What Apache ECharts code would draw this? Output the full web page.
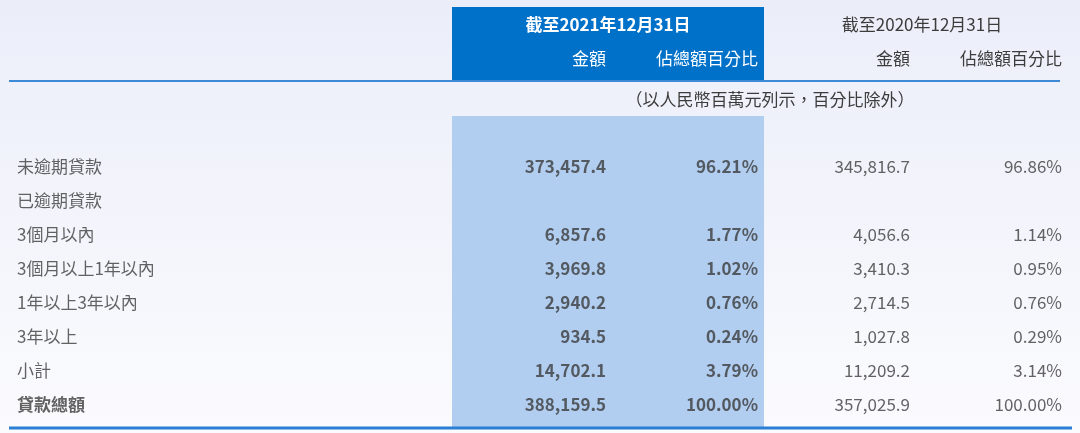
<!DOCTYPE html>
<html><head><meta charset="utf-8">
<script src="https://cdn.jsdelivr.net/npm/echarts@6/dist/echarts.min.js"></script>
<style>html,body{margin:0;padding:0;}#c{width:1080px;height:433px;}</style>
</head><body><div id="c"></div>
<script>
const rowLabels = ['未逾期貸款','已逾期貸款','3個月以內','3個月以上1年以內','1年以上3年以內','3年以上','小計','貸款總額'];
const amt2021 = ['373,457.4','','6,857.6','3,969.8','2,940.2','934.5','14,702.1','388,159.5'];
const pct2021 = ['96.21%','','1.77%','1.02%','0.76%','0.24%','3.79%','100.00%'];
const amt2020 = ['345,816.7','','4,056.6','3,410.3','2,714.5','1,027.8','11,209.2','357,025.9'];
const pct2020 = ['96.86%','','1.14%','0.95%','0.76%','0.29%','3.14%','100.00%'];
const headers = ['截至2021年12月31日','截至2020年12月31日'];
const subHeaders = ['金額','佔總額百分比'];
const unitNote = '（以人民幣百萬元列示，百分比除外）';

const FONT = '"Noto Sans CJK TC","Noto Sans",sans-serif';
const TXT = '#3c3c3c';
const colX = {label:17, a21:606, p21:758, a20:910, p20:1062};

function colSeries(name, x, vals, pos, boldFn){
  return {
    type:'scatter', name, symbolSize:0, silent:true,
    data: vals.map((v,i)=>({value:[x,rowLabels[i]], label:{fontWeight: boldFn(i)?'bold':'normal'}, txt:v})),
    label:{show:true, position:pos, distance:0, formatter:p=>p.data.txt,
      fontFamily:FONT, fontSize:17, color:TXT}
  };
}

const chart = echarts.init(document.getElementById('c'));
chart.setOption({
  backgroundColor:{type:'linear',x:0,y:0,x2:0,y2:1,colorStops:[{offset:0,color:'#ebeef9'},{offset:1,color:'#fbfbfe'}]},
  animation:false,
  grid:{left:0,right:0,top:149,bottom:11},
  xAxis:{type:'value',min:0,max:1080,show:false},
  yAxis:{type:'category',data:rowLabels,inverse:true,show:false},
  graphic:[
    {type:'rect',shape:{x:452,y:7,width:312,height:74},style:{fill:'#0071c9'},z:-1},
    {type:'rect',shape:{x:452,y:116,width:312,height:311},style:{fill:'#b1cdef'},z:-1},
    {type:'line',shape:{x1:9,y1:81,x2:1060,y2:81},style:{stroke:'#3d8ad6',lineWidth:2}},
    {type:'line',shape:{x1:9,y1:428,x2:1072,y2:428},style:{stroke:'#2a7fd4',lineWidth:3}},
    {type:'text',x:608,y:25,style:{text:headers[0],fill:'#fff',font:'bold 17px '+FONT,align:'center',verticalAlign:'middle'}},
    {type:'text',x:606,y:59,style:{text:subHeaders[0],fill:'#fff',font:'17px '+FONT,align:'right',verticalAlign:'middle'}},
    {type:'text',x:758,y:59,style:{text:subHeaders[1],fill:'#fff',font:'17px '+FONT,align:'right',verticalAlign:'middle'}},
    {type:'text',x:922,y:25,style:{text:headers[1],fill:TXT,font:'17px '+FONT,align:'center',verticalAlign:'middle'}},
    {type:'text',x:910,y:59,style:{text:subHeaders[0],fill:TXT,font:'17px '+FONT,align:'right',verticalAlign:'middle'}},
    {type:'text',x:1062,y:59,style:{text:subHeaders[1],fill:TXT,font:'17px '+FONT,align:'right',verticalAlign:'middle'}},
    {type:'text',x:770,y:100,style:{text:unitNote,fill:TXT,font:'17px '+FONT,align:'center',verticalAlign:'middle'}}
  ],
  series:[
    colSeries('label',colX.label,rowLabels,'right',i=>i===7),
    colSeries('a21',colX.a21,amt2021,'left',()=>true),
    colSeries('p21',colX.p21,pct2021,'left',()=>true),
    colSeries('a20',colX.a20,amt2020,'left',()=>false),
    colSeries('p20',colX.p20,pct2020,'left',()=>false)
  ]
});
</script></body></html>
